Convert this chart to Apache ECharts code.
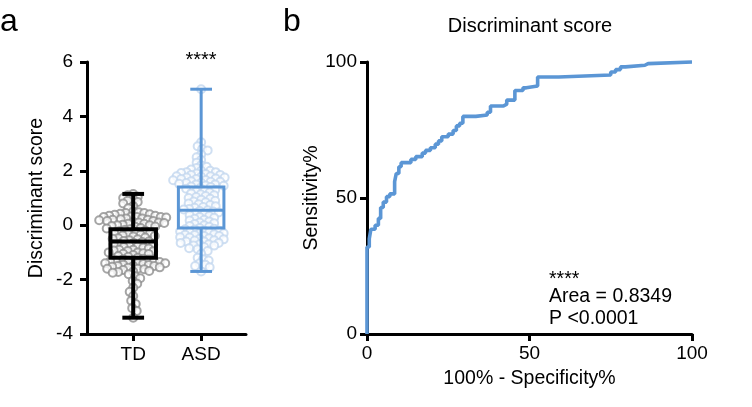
<!DOCTYPE html>
<html><head><meta charset="utf-8">
<script src="https://cdn.jsdelivr.net/npm/echarts@6/dist/echarts.min.js"></script>
<style>html,body{margin:0;padding:0;background:#fff}#c{width:752px;height:407px}</style>
</head><body><div id="c"></div>
<script>
// ---------- data ----------
const groupNames = ['TD', 'ASD'];
const groupPos = [1, 2];
// [min, Q1, median, Q3, max]
const tdBox = [-3.4, -1.2, -0.6, -0.15, 1.15];
const asdBox = [-1.7, -0.1, 0.55, 1.4, 5.0];
const tdValues = [1.15, 1.1, 1.05, 1.0, 0.95, 0.9, 0.85, 0.8, 0.7, 0.62, 0.5, 0.48, 0.45, 0.45, 0.42, 0.4, 0.38, 0.35, 0.35, 0.32, 0.3, 0.3, 0.3, 0.28, 0.25, 0.25, 0.22, 0.2, 0.2, 0.18, 0.15, 0.15, 0.12, 0.1, 0.1, 0.08, 0.05, 0.05, 0.02, 0.0, 0.0, -0.03, -0.05, -0.06, -0.1, -0.12, -0.15, -0.18, -0.2, -0.22, -0.25, -0.28, -0.3, -0.33, -0.35, -0.38, -0.4, -0.42, -0.45, -0.48, -0.5, -0.52, -0.55, -0.58, -0.6, -0.62, -0.65, -0.68, -0.7, -0.72, -0.75, -0.78, -0.8, -0.83, -0.86, -0.9, -0.9, -0.93, -0.95, -0.96, -1.0, -1.0, -1.03, -1.05, -1.06, -1.1, -1.13, -1.16, -1.2, -1.23, -1.25, -1.26, -1.3, -1.3, -1.3, -1.33, -1.35, -1.36, -1.4, -1.4, -1.4, -1.43, -1.45, -1.46, -1.5, -1.5, -1.5, -1.53, -1.55, -1.56, -1.6, -1.6, -1.62, -1.65, -1.68, -1.7, -1.72, -1.75, -1.8, -1.88, -1.95, -2.05, -2.15, -2.3, -2.45, -2.6, -2.78, -2.9, -3.05, -3.15, -3.4];
const asdValues = [5.0, 3.05, 2.9, 2.8, 2.75, 2.6, 2.5, 2.4, 2.3, 2.2, 2.15, 2.1, 2.05, 2.0, 2.0, 1.95, 1.95, 1.92, 1.9, 1.88, 1.85, 1.85, 1.8, 1.8, 1.78, 1.75, 1.75, 1.72, 1.7, 1.7, 1.66, 1.65, 1.62, 1.6, 1.6, 1.56, 1.55, 1.52, 1.5, 1.5, 1.46, 1.45, 1.42, 1.4, 1.37, 1.34, 1.3, 1.27, 1.24, 1.2, 1.17, 1.14, 1.1, 1.07, 1.04, 1.0, 0.97, 0.94, 0.9, 0.87, 0.84, 0.8, 0.77, 0.74, 0.7, 0.67, 0.64, 0.6, 0.58, 0.55, 0.52, 0.5, 0.47, 0.44, 0.4, 0.37, 0.34, 0.3, 0.27, 0.24, 0.2, 0.17, 0.14, 0.1, 0.07, 0.04, 0.0, -0.03, -0.06, -0.1, -0.13, -0.15, -0.16, -0.2, -0.2, -0.23, -0.25, -0.26, -0.3, -0.3, -0.33, -0.35, -0.36, -0.4, -0.4, -0.44, -0.45, -0.48, -0.5, -0.52, -0.55, -0.56, -0.6, -0.6, -0.65, -0.65, -0.7, -0.7, -0.75, -0.75, -0.8, -0.85, -0.88, -0.95, -1.05, -1.2, -1.25, -1.3, -1.4, -1.45, -1.5, -1.55, -1.7];
const scoreTicks = { min: -4, max: 6, interval: 2 };
const rocTicks = { min: 0, max: 100, interval: 50 };
// ROC staircase [100% - Specificity%, Sensitivity%]
const rocPoints = [[0,0],[0,32],[0.7,32],[0.7,35],[1.2,35],[1.2,38.5],[2.5,38.5],[2.5,40],[3.5,40],[3.5,42.5],[4.2,42.5],[4.2,46.5],[5,46.5],[5,48.5],[6,48.5],[6,50.5],[7,50.5],[7,51.5],[8.5,51.5],[8.5,56],[9,56],[9,59],[9.8,59],[9.8,61.5],[10.5,61.5],[10.5,63],[13.5,63],[13.5,64.2],[15,64.2],[15,65.2],[17,65.2],[17,66.5],[18,66.5],[18,67.5],[19.5,67.5],[19.5,68.5],[21,68.5],[21,69.8],[22,69.8],[22,71],[23,71],[23,72.5],[25,72.5],[25,73.5],[26.5,73.5],[26.5,74.8],[27.5,74.8],[27.5,76.5],[28.5,76.5],[28.5,77.5],[29.5,77.5],[29.5,80],[33.5,80],[33.5,80.5],[37,80.5],[37,81.5],[38,81.5],[38,83.8],[42,83.8],[42,84.5],[43,84.5],[43,86],[45.5,86],[45.5,89.5],[48,89.5],[48,90.5],[49,90.5],[49,91.2],[52.5,91.2],[52.5,94.5],[59,94.5],[59,95.2],[75,95.2],[75,96.3],[76.5,96.3],[76.5,97.2],[78,97.2],[78,98.2],[79.5,98.2],[79.5,98.8],[85.5,98.8],[85.5,99.4],[86.5,99.4],[86.5,100],[100,100]];
const annotations = ['****', 'Area = 0.8349', 'P <0.0001'];

// ---------- style ----------
const FONT = "'Liberation Sans', Arial, sans-serif";
const BLUE = '#5b96d5';
const boxColors = ['#000000', BLUE];
const boxWidths = [4, 3];
const dotColors = ['#8f8f8f', '#c3d7ef'];
const axisLine = { show: true, onZero: false, lineStyle: { color: '#000', width: 3 } };
const axisTick = { show: true, length: 7, lineStyle: { color: '#000', width: 3 } };
const lbl = { color: '#000', fontSize: 19, fontFamily: FONT };

const chart = echarts.init(document.getElementById('c'));

const baseOption = {
  animation: false,
  backgroundColor: '#fff',
  grid: [
    { left: 87, top: 62, width: 159, height: 272 },
    { left: 367, top: 62, width: 325, height: 272 }
  ],
  xAxis: [
    { gridIndex: 0, type: 'value', min: 0.32, max: 2.66, axisLine, splitLine: { show: false },
      axisTick: Object.assign({ customValues: groupPos }, axisTick),
      axisLabel: Object.assign({ customValues: groupPos, margin: 11,
        formatter: v => groupNames[groupPos.indexOf(Math.round(v))] }, lbl) },
    { gridIndex: 1, type: 'value', min: rocTicks.min, max: rocTicks.max, interval: rocTicks.interval,
      axisLine, axisTick, splitLine: { show: false },
      axisLabel: Object.assign({ margin: 10 }, lbl),
      name: '100% - Specificity%', nameLocation: 'middle', nameGap: 35,
      nameTextStyle: { color: '#000', fontSize: 19.5, fontFamily: FONT } }
  ],
  yAxis: [
    { gridIndex: 0, type: 'value', min: scoreTicks.min, max: scoreTicks.max, interval: scoreTicks.interval,
      axisLine, axisTick, splitLine: { show: false },
      axisLabel: Object.assign({ margin: 14 }, lbl),
      name: 'Discriminant score', nameLocation: 'middle', nameGap: 40,
      nameTextStyle: { color: '#000', fontSize: 19.5, fontFamily: FONT } },
    { gridIndex: 1, type: 'value', min: rocTicks.min, max: rocTicks.max, interval: rocTicks.interval,
      axisLine, axisTick, splitLine: { show: false },
      axisLabel: Object.assign({ margin: 10 }, lbl),
      name: 'Sensitivity%', nameLocation: 'middle', nameGap: 39,
      nameTextStyle: { color: '#000', fontSize: 19.5, fontFamily: FONT } }
  ],
  graphic: [
    { type: 'text', x: 0, y: 22, style: { text: 'a', font: '32px ' + FONT, fill: '#000', align: 'left', verticalAlign: 'middle' } },
    { type: 'text', x: 283, y: 22, style: { text: 'b', font: '32px ' + FONT, fill: '#000', align: 'left', verticalAlign: 'middle' } },
    { type: 'text', x: 530, y: 26, style: { text: 'Discriminant score', font: '20px ' + FONT, fill: '#000', align: 'center', verticalAlign: 'middle' } },
    { type: 'text', x: 201, y: 60, style: { text: '****', font: '20px ' + FONT, fill: '#000', align: 'center', verticalAlign: 'middle' } },
    { type: 'text', x: 549, y: 280, style: { text: annotations[0], font: '19.5px ' + FONT, fill: '#000', align: 'left', verticalAlign: 'middle' } },
    { type: 'text', x: 549, y: 297, style: { text: annotations[1], font: '19.5px ' + FONT, fill: '#000', align: 'left', verticalAlign: 'middle' } },
    { type: 'text', x: 549, y: 319, style: { text: annotations[2], font: '19.5px ' + FONT, fill: '#000', align: 'left', verticalAlign: 'middle' } }
  ],
  series: []
};
chart.setOption(baseOption);

// pixel scale of panel a, to lay out the beeswarm
const p0 = chart.convertToPixel({ gridIndex: 0 }, [1, 0]);
const p1 = chart.convertToPixel({ gridIndex: 0 }, [2, 1]);
const pxX = p1[0] - p0[0];
const pxY = p0[1] - p1[1];

function swarm(values, center) {
  const sorted = values.slice().sort((a, b) => b - a);
  const placed = [];
  const D = 5.2;
  const out = [];
  for (const v of sorted) {
    const y = v * pxY;
    let best = 0;
    for (let k = 0; k < 400; k++) {
      const off = (k % 2 === 0 ? 1 : -1) * Math.ceil(k / 2) * 0.5;
      let ok = true;
      for (const q of placed) {
        const dy = q.y - y;
        if (Math.abs(dy) < D) {
          const dx = q.x - off;
          if (dx * dx + dy * dy < D * D) { ok = false; break; }
        }
      }
      if (ok) { best = off; break; }
    }
    placed.push({ x: best, y });
    out.push([center + best / pxX, v]);
  }
  return out;
}

function renderBox(params, api) {
  const i = params.dataIndex;
  const x = api.value(0);
  const lo = api.coord([x, api.value(1)]);
  const q1 = api.coord([x, api.value(2)]);
  const md = api.coord([x, api.value(3)]);
  const q3 = api.coord([x, api.value(4)]);
  const hi = api.coord([x, api.value(5)]);
  const half = api.size([0.335, 0])[0];
  const cap = api.size([0.16, 0])[0];
  const st = { stroke: boxColors[i], lineWidth: boxWidths[i], fill: null };
  const cx = lo[0];
  return {
    type: 'group',
    children: [
      { type: 'line', shape: { x1: cx, y1: lo[1], x2: cx, y2: q1[1] }, style: st },
      { type: 'line', shape: { x1: cx, y1: q3[1], x2: cx, y2: hi[1] }, style: st },
      { type: 'line', shape: { x1: cx - cap, y1: lo[1], x2: cx + cap, y2: lo[1] }, style: st },
      { type: 'line', shape: { x1: cx - cap, y1: hi[1], x2: cx + cap, y2: hi[1] }, style: st },
      { type: 'rect', shape: { x: cx - half, y: q3[1], width: 2 * half, height: q1[1] - q3[1] }, style: st },
      { type: 'line', shape: { x1: cx - half, y1: md[1], x2: cx + half, y2: md[1] }, style: st }
    ]
  };
}

chart.setOption({
  series: [
    { type: 'scatter', xAxisIndex: 0, yAxisIndex: 0, z: 1, symbol: 'emptyCircle', symbolSize: 8,
      itemStyle: { color: dotColors[0], borderColor: dotColors[0], borderWidth: 1.4 },
      data: swarm(tdValues, groupPos[0]) },
    { type: 'scatter', xAxisIndex: 0, yAxisIndex: 0, z: 1, symbol: 'emptyCircle', symbolSize: 8,
      itemStyle: { color: dotColors[1], borderColor: dotColors[1], borderWidth: 1.4 },
      data: swarm(asdValues, groupPos[1]) },
    { type: 'custom', xAxisIndex: 0, yAxisIndex: 0, z: 3, renderItem: renderBox,
      data: [[groupPos[0]].concat(tdBox), [groupPos[1]].concat(asdBox)] },
    { type: 'line', xAxisIndex: 1, yAxisIndex: 1, z: 3, clip: false, showSymbol: false, symbol: 'none',
      lineStyle: { color: BLUE, width: 3.6 }, data: rocPoints }
  ]
});
</script>
</body></html>
